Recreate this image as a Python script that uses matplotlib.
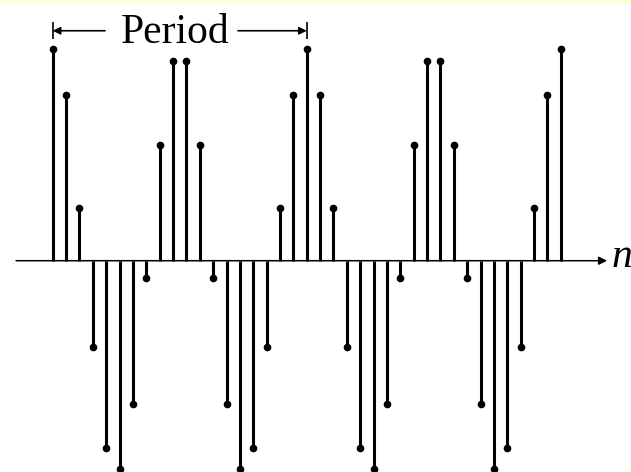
import numpy as np
import matplotlib.pyplot as plt

# sample values x[n], n = 0..38 (period of 19 samples)
n_values = list(range(39))
x_values = [1.01, 0.79, 0.25, -0.41, -0.89, -0.99, -0.68, -0.08, 0.55, 0.95,
            0.95, 0.55, -0.08, -0.68, -0.99, -0.89, -0.41, 0.25, 0.79,
            1.01, 0.79, 0.25, -0.41, -0.89, -0.99, -0.68, -0.08, 0.55, 0.95,
            0.95, 0.55, -0.08, -0.68, -0.99, -0.89, -0.41, 0.25, 0.79,
            1.01]
period_start = 0
period_end = 19
period_label = "Period"
axis_label = "n"

fig = plt.figure(figsize=(6.31, 4.72), dpi=100)
ax = fig.add_axes([0, 0, 1, 1])
ax.set_xlim(-3.94, 43.25)
ax.set_ylim(-1.006, 1.2414)
ax.axis("off")

# pale yellow strip along the top edge
ax.axhspan(1.227, 1.2414, color="#ffffcc", lw=0)

# horizontal axis with arrow
ax.annotate("", xy=(41.46, 0), xytext=(-2.74, 0),
            arrowprops=dict(arrowstyle="-|>", color="black", lw=1.1,
                            mutation_scale=12, shrinkA=0, shrinkB=0))
ax.text(41.8, -0.03, axis_label, fontsize=30, family="Liberation Serif",
        style="italic", ha="left", va="baseline")

# stems
markerline, stemlines, baseline = ax.stem(n_values, x_values, basefmt=" ")
plt.setp(stemlines, color="black", linewidth=2.2)
plt.setp(markerline, color="black", marker="o", markersize=4.5)

# period annotation
y_arr = 1.095
ax.vlines([period_start, period_end], 1.055, 1.136, color="black", lw=1.2)
ax.annotate("", xy=(period_start, y_arr), xytext=(3.92, y_arr),
            arrowprops=dict(arrowstyle="-|>", color="black", lw=1.2,
                            mutation_scale=11, shrinkA=0, shrinkB=0))
ax.annotate("", xy=(period_end, y_arr), xytext=(13.86, y_arr),
            arrowprops=dict(arrowstyle="-|>", color="black", lw=1.2,
                            mutation_scale=11, shrinkA=0, shrinkB=0))
ax.text(9.16, 1.038, period_label, fontsize=30, family="Liberation Serif",
        ha="center", va="baseline")

fig.savefig("out.png", dpi=100)
